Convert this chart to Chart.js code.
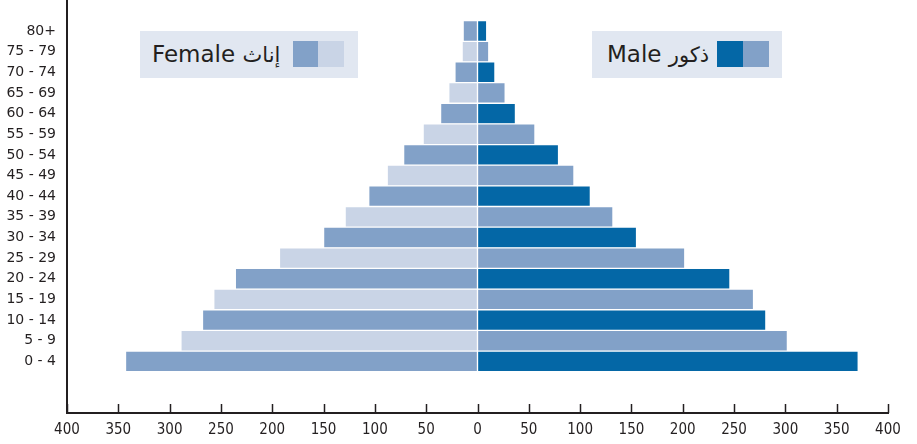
<!DOCTYPE html>
<html lang="en">
<head>
  <meta charset="UTF-8">
  <title>Population pyramid</title>
  <script src="https://cdn.jsdelivr.net/npm/chart.js"></script>
  <style>
    html, body { margin: 0; padding: 0; background: #fff; }
    #wrap { position: relative; width: 917px; height: 444px; }
    .key {
      position: absolute;
      background: #e1e7f1;
      color: #231f20;
      font-family: "DejaVu Sans", sans-serif;
      font-size: 23px;
      line-height: 46px;
      white-space: nowrap;
      direction: ltr;
    }
    .key .txt { position: absolute; top: 0; }
    .key .ar { font-size: 21px; }
    .key .sw { position: absolute; top: 10px; width: 26px; height: 26px; }
  </style>
</head>
<body>
<div id="wrap">
  <canvas id="pyramid" width="917" height="444"></canvas>
  <div class="key" style="left:140px; top:31px; width:218px; height:47px;">
    <span class="txt" style="left:12px;">Female <span class="ar" dir="rtl">إناث</span></span>
    <span class="sw" style="left:153px; background:#82a1c8;"></span>
    <span class="sw" style="left:178px; background:#c9d4e6;"></span>
  </div>
  <div class="key" style="left:592px; top:31px; width:190px; height:47px;">
    <span class="txt" style="left:15px;">Male <span class="ar" dir="rtl">ذكور</span></span>
    <span class="sw" style="left:125px; background:#0467a6;"></span>
    <span class="sw" style="left:151px; background:#82a1c8;"></span>
  </div>
</div>

<script>
  // age groups, top to bottom
  var ageGroups = ['80+', '75 - 79', '70 - 74', '65 - 69', '60 - 64', '55 - 59', '50 - 54',
    '45 - 49', '40 - 44', '35 - 39', '30 - 34', '25 - 29', '20 - 24', '15 - 19',
    '10 - 14', '5 - 9', '0 - 4'];
  var female = [14, 15, 22, 28, 36, 53, 72, 88, 106, 129, 150, 193, 236, 257, 268, 289, 343];
  var male = [9, 11, 17, 27, 37, 56, 79, 94, 110, 132, 155, 202, 246, 269, 281, 302, 371];
  var xTicks = [-400, -350, -300, -250, -200, -150, -100, -50, 0, 50, 100, 150, 200, 250, 300, 350, 400];

  // one empty row above, two below
  var labels = [''].concat(ageGroups, ['', '']);
  var femaleData = [null].concat(female.map(function (v) { return -v; }), [null, null]);
  var maleData = [null].concat(male, [null, null]);

  function alt(a, b) {
    return labels.map(function (l, i) { return (i % 2 === 1) ? a : b; });
  }

  var ink = '#231f20';

  // tick marks pointing up into the plot
  var upTicks = {
    id: 'upTicks',
    afterDraw: function (chart) {
      var x = chart.scales.x;
      var ctx = chart.ctx;
      ctx.save();
      ctx.strokeStyle = ink;
      ctx.lineWidth = 1.5;
      xTicks.forEach(function (v) {
        var px = Math.round(x.getPixelForValue(v)) + 0.5;
        ctx.beginPath();
        ctx.moveTo(px, x.top);
        ctx.lineTo(px, x.top - 9);
        ctx.stroke();
      });
      ctx.restore();
    }
  };

  var ctx = document.getElementById('pyramid').getContext('2d');
  var chart = new Chart(ctx, {
    type: 'bar',
    data: {
      labels: labels,
      datasets: [{
        label: 'Female',
        data: femaleData,
        backgroundColor: alt('#82a1c8', '#c9d4e6'),
        borderColor: '#ffffff',
        borderWidth: 1,
        borderSkipped: false
      }, {
        label: 'Male',
        data: maleData,
        backgroundColor: alt('#0467a6', '#82a1c8'),
        borderColor: '#ffffff',
        borderWidth: 1,
        borderSkipped: false
      }]
    },
    options: {
      indexAxis: 'y',
      responsive: false,
      animation: false,
      layout: { padding: { top: 0, right: 29, bottom: 0, left: 0 } },
      datasets: { bar: { barPercentage: 1, categoryPercentage: 1 } },
      plugins: { legend: { display: false }, tooltip: { enabled: false } },
      scales: {
        x: {
          type: 'linear',
          min: -400,
          max: 400,
          afterBuildTicks: function (axis) {
            axis.ticks = xTicks.map(function (v) { return { value: v }; });
          },
          afterFit: function (axis) { axis.height = 31; },
          grid: { display: false, drawTicks: false },
          border: { display: true, color: ink, width: 2 },
          ticks: {
            padding: 8,
            color: ink,
            font: { family: '"Liberation Sans Narrow", "DejaVu Sans Condensed", sans-serif', size: 15 },
            callback: function (v) { return Math.abs(v); }
          }
        },
        y: {
          stacked: true,
          afterFit: function (axis) {
            axis.width = 67;
            axis.paddingTop = 0;
            axis.paddingBottom = 0;
          },
          grid: { display: false, drawTicks: false },
          border: { display: true, color: ink, width: 2 },
          ticks: {
            padding: 11,
            color: ink,
            autoSkip: false,
            font: { family: '"DejaVu Sans", sans-serif', size: 14 }
          }
        }
      }
    },
    plugins: [upTicks]
  });
</script>
</body>
</html>
